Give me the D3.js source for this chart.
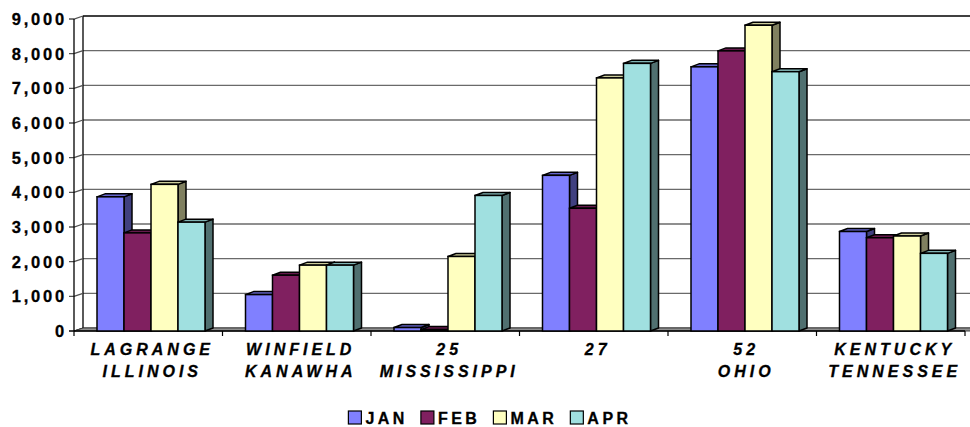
<!DOCTYPE html>
<html>
<head>
<meta charset="utf-8">
<script src="https://cdn.jsdelivr.net/npm/d3@7"></script>
<style>
  html, body { margin: 0; padding: 0; background: #fff; }
  svg { display: block; font-family: "Liberation Sans", Arial, sans-serif; font-weight: bold; }
</style>
</head>
<body>
<svg id="chart"></svg>
<script>
// chart data
const categories = ["LAGRANGE|ILLINOIS", "WINFIELD|KANAWHA", "25|MISSISSIPPI", "27|", "52|OHIO", "KENTUCKY|TENNESSEE"];
const seriesNames = ["JAN", "FEB", "MAR", "APR"];
const jan = [3870, 1050, 100, 4490, 7620, 2870];
const feb = [2830, 1610, 40, 3540, 8080, 2690];
const mar = [4230, 1900, 2150, 7300, 8820, 2740];
const apr = [3140, 1900, 3910, 7720, 7480, 2240];
const yTicks = [0, 1000, 2000, 3000, 4000, 5000, 6000, 7000, 8000, 9000];
const colors = ["#8080ff", "#802060", "#ffffc0", "#a0e0e0"];

const width = 970, height = 427;
const svg = d3.select("#chart").attr("width", width).attr("height", height);

// 3d offsets
const wallDx = 9, wallDy = 3;
const barDx = 8, barDy = 3;

const y = d3.scaleLinear().domain([0, 9000]).range([331, 19]);
const x = d3.scaleBand().domain(categories).range([74, 965]);
const xInner = d3.scaleBand().domain(seriesNames).range([23, 131]);

const values = [jan, feb, mar, apr];

// back wall gridlines
const right = 972;
svg.append("g").selectAll("line")
  .data(yTicks)
  .enter().append("line")
  .attr("x1", 74 + wallDx).attr("x2", right)
  .attr("y1", d => y(d) - wallDy).attr("y2", d => y(d) - wallDy)
  .attr("stroke", d => d === 9000 ? "#000" : "#6a6a6a")
  .attr("stroke-width", 1.3);

// left wall: back edge and diagonal ticks
svg.append("line")
  .attr("x1", 74 + wallDx).attr("x2", 74 + wallDx)
  .attr("y1", y(9000) - wallDy).attr("y2", y(0) - wallDy)
  .attr("stroke", "#000").attr("stroke-width", 1.3);

svg.append("g").selectAll("path")
  .data(yTicks)
  .enter().append("path")
  .attr("d", d => `M69,${y(d)}L74,${y(d)}L${74 + wallDx},${y(d) - wallDy}`)
  .attr("fill", "none")
  .attr("stroke", d => d === 0 ? "#000" : "#505050")
  .attr("stroke-width", 1.3);

// floor
svg.append("path")
  .attr("d", `M74,${y(0)}L${74 + wallDx},${y(0) - wallDy}L${right},${y(0) - wallDy}L${right},${y(0)}Z`)
  .attr("fill", "#909090").attr("stroke", "#404040").attr("stroke-width", 1);

// front y axis
svg.append("line")
  .attr("x1", 74).attr("x2", 74).attr("y1", y(9000)).attr("y2", y(0))
  .attr("stroke", "#000").attr("stroke-width", 1.3);
svg.append("line")
  .attr("x1", 74).attr("x2", 965).attr("y1", y(0)).attr("y2", y(0))
  .attr("stroke", "#000").attr("stroke-width", 1.5);

// x ticks at category boundaries
const bounds = categories.map(c => x(c)).concat([x.range()[1]]);
svg.append("g").selectAll("line")
  .data(bounds)
  .enter().append("line")
  .attr("x1", d => d).attr("x2", d => d)
  .attr("y1", y(0)).attr("y2", y(0) + 5)
  .attr("stroke", "#000").attr("stroke-width", 1.2);

// y labels
svg.append("g").selectAll("text")
  .data(yTicks)
  .enter().append("text")
  .attr("x", 67)
  .attr("y", d => y(d) + 6)
  .attr("text-anchor", "end")
  .attr("font-size", 16.5)
  .attr("letter-spacing", 2.8)
  .attr("stroke", "#000").attr("stroke-width", 0.3)
  .text(d => d3.format(",")(d));

// bars
function shade(c, k) {
  const col = d3.rgb(c);
  return d3.rgb(col.r * k, col.g * k, col.b * k).formatHex();
}

const bars = [];
categories.forEach((c, i) => {
  seriesNames.forEach((s, j) => {
    bars.push({ cat: c, series: s, value: values[j][i], color: colors[j] });
  });
});

const barG = svg.append("g").selectAll("g")
  .data(bars)
  .enter().append("g");

barG.each(function (d) {
  const g = d3.select(this);
  const x0 = x(d.cat) + xInner(d.series);
  const w = xInner.bandwidth();
  const yt = y(d.value), yb = y(0);
  g.append("path")
    .attr("d", `M${x0 + w},${yt}L${x0 + w + barDx},${yt - barDy}L${x0 + w + barDx},${yb - barDy}L${x0 + w},${yb}Z`)
    .attr("fill", shade(d.color, 0.5))
    .attr("stroke", "#000").attr("stroke-width", 1.5).attr("stroke-linejoin", "round");
  g.append("path")
    .attr("d", `M${x0},${yt}L${x0 + barDx},${yt - barDy}L${x0 + w + barDx},${yt - barDy}L${x0 + w},${yt}Z`)
    .attr("fill", shade(d.color, 0.8))
    .attr("stroke", "#000").attr("stroke-width", 1.5).attr("stroke-linejoin", "round");
  g.append("rect")
    .attr("x", x0).attr("y", yt)
    .attr("width", w).attr("height", yb - yt)
    .attr("fill", d.color)
    .attr("stroke", "#000").attr("stroke-width", 1.5);
});

// category labels
const catLabels = svg.append("g").selectAll("text")
  .data(categories)
  .enter().append("text")
  .attr("font-size", 16)
  .attr("font-style", "italic")
  .attr("letter-spacing", 4)
  .attr("stroke", "#000").attr("stroke-width", 0.3)
  .attr("text-anchor", "middle");

catLabels.each(function (d) {
  const lines = d.split("|");
  const cx = x(d) + x.bandwidth() / 2 + 4;
  lines.forEach((ln, k) => {
    d3.select(this).append("tspan")
      .attr("x", cx)
      .attr("y", 355 + k * 22)
      .text(ln);
  });
});

// legend
const legend = svg.append("g");
let lx = 0;
seriesNames.forEach((s, j) => {
  const item = legend.append("g").attr("transform", `translate(${lx},0)`);
  item.append("rect")
    .attr("x", 0).attr("y", 411).attr("width", 13).attr("height", 13)
    .attr("fill", colors[j]).attr("stroke", "#000").attr("stroke-width", 1.2);
  const t = item.append("text")
    .attr("x", 17).attr("y", 424)
    .attr("font-size", 16)
    .attr("letter-spacing", 3.5)
    .attr("stroke", "#000").attr("stroke-width", 0.3)
    .text(s);
  lx += 17 + t.node().getComputedTextLength() + 13;
});
const legW = lx - 13;
legend.attr("transform", `translate(${490 - legW / 2},0)`);
</script>
</body>
</html>
